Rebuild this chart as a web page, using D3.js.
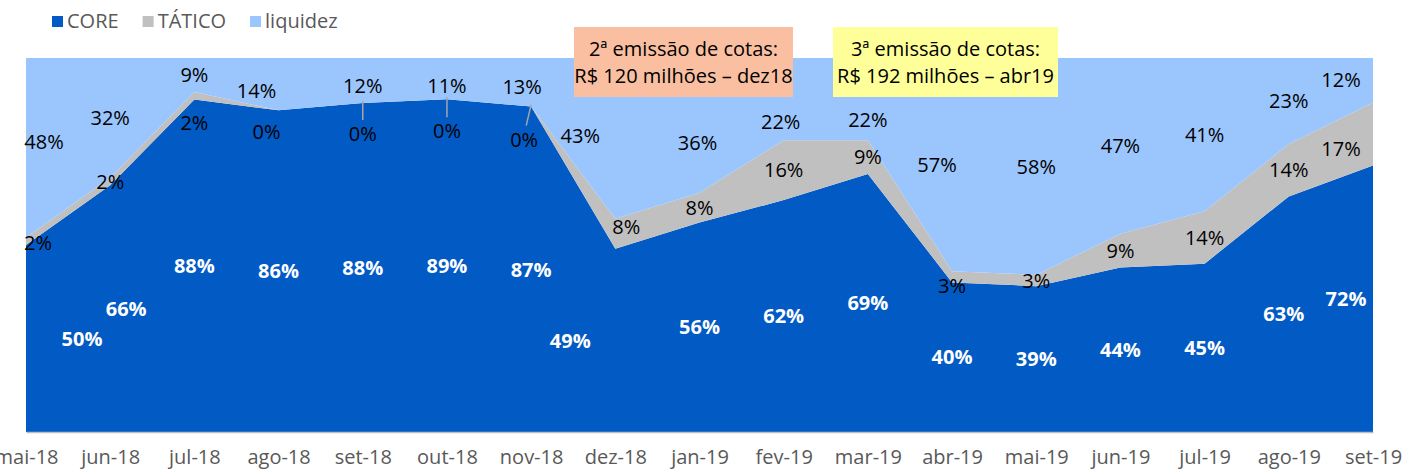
<!DOCTYPE html>
<html lang="pt-BR">
<head>
<meta charset="utf-8">
<title>Alocação da carteira</title>
<script src="https://cdnjs.cloudflare.com/ajax/libs/d3/7.8.5/d3.min.js"></script>
<style>
  body { margin: 0; background: #fff; }
  text { font-family: "Open Sans", "Noto Sans", sans-serif; }
</style>
</head>
<body>
<svg width="1404" height="469"></svg>
<script>
const months = ['mai-18', 'jun-18', 'jul-18', 'ago-18', 'set-18', 'out-18', 'nov-18', 'dez-18', 'jan-19',
                'fev-19', 'mar-19', 'abr-19', 'mai-19', 'jun-19', 'jul-19', 'ago-19', 'set-19'];
const core     = [50, 66, 88, 86, 88, 89, 87, 49, 56, 62, 69, 40, 39, 44, 45, 63, 72];
const tatico   = [2, 2, 2, 0, 0, 0, 0, 8, 8, 16, 9, 3, 3, 9, 14, 14, 17];
const liquidez = [48, 32, 9, 14, 12, 11, 13, 43, 36, 22, 22, 57, 58, 47, 41, 23, 12];
const seriesNames = ['CORE', 'TÁTICO', 'liquidez'];
const notes = [
  ['2ª emissão de cotas:', 'R$ 120 milhões – dez18'],
  ['3ª emissão de cotas:', 'R$ 192 milhões – abr19']
];

const colors = { CORE: '#025AC4', 'TÁTICO': '#C0C0C0', liquidez: '#9BC6FD' };
const labelColor = { CORE: '#fff', 'TÁTICO': '#000', liquidez: '#000' };
const fontSize = 20;

// labels that were dragged by hand in the original: index -> [dx, dy, leaderLine]
const nudge = {
  CORE: { 0: [56, 0], 1: [16, 0], 7: [-45, 0], 15: [-5, 0], 16: [-27, 0] },
  'TÁTICO': { 0: [12, 2], 2: [0, 27], 3: [-12, 21], 4: [0, 31, true], 5: [0, 32, true], 6: [-7, 33, true],
              7: [11, -7], 11: [0, 9], 16: [-32, 15] },
  liquidez: { 0: [18, -6], 3: [-22, 7], 4: [0, 5], 5: [0, 7], 6: [-9, 4], 7: [-35, -3], 8: [-2, 17],
              9: [-3, 23], 10: [0, 21], 11: [-15, 0], 16: [-32, 0] }
};

const svg = d3.select('svg');
const margin = { left: 26, right: 31, top: 58, bottom: 37 };
const width = +svg.attr('width');
const height = +svg.attr('height');
const innerWidth = width - margin.left - margin.right;
const innerHeight = height - margin.top - margin.bottom;

const rows = months.map((m, i) => ({ month: m, CORE: core[i], 'TÁTICO': tatico[i], liquidez: liquidez[i] }));
const stacked = d3.stack().keys(seriesNames).offset(d3.stackOffsetExpand)(rows);

const xScale = d3.scalePoint().domain(months).range([0, innerWidth]);
const yScale = d3.scaleLinear().domain([0, 1]).range([innerHeight, 0]);

const g = svg.append('g').attr('transform', `translate(${margin.left}, ${margin.top})`);

const area = d3.area()
  .x(d => xScale(d.data.month))
  .y0(d => yScale(d[0]))
  .y1(d => yScale(d[1]));

g.selectAll('path.layer').data(stacked)
  .enter().append('path')
  .attr('class', 'layer')
  .attr('fill', s => colors[s.key])
  .attr('d', area);

// bottom axis
const xAxis = d3.axisBottom(xScale).tickSize(0).tickPadding(18);
const xAxisG = g.append('g').attr('transform', `translate(0, ${innerHeight})`).call(xAxis);
xAxisG.select('.domain').attr('stroke', '#BFBFBF').attr('stroke-width', 1.5);
xAxisG.selectAll('text').attr('font-size', fontSize).attr('fill', '#595959')
  .attr('font-family', '"Open Sans", sans-serif');

// data labels
stacked.forEach(s => {
  const lg = g.append('g');
  s.forEach((d, i) => {
    const n = nudge[s.key][i] || [0, 0];
    const cx = xScale(d.data.month);
    const cy = yScale((d[0] + d[1]) / 2);
    const lx = cx + n[0];
    const ly = cy + n[1];
    if (n[2]) {
      lg.append('line')
        .attr('x1', cx).attr('y1', yScale(d[1]) - 2)
        .attr('x2', lx + (cx - lx) * 0.3).attr('y2', ly - 14)
        .attr('stroke', '#A6A6A6').attr('stroke-width', 1.5);
    }
    lg.append('text')
      .attr('x', lx).attr('y', ly)
      .attr('dy', '0.36em')
      .attr('text-anchor', 'middle')
      .attr('font-size', fontSize)
      .attr('font-weight', s.key === 'CORE' ? 700 : 400)
      .attr('fill', labelColor[s.key])
      .text(d.data[s.key] + '%');
  });
});

// annotation boxes
const noteBoxes = [
  { fill: '#F9BFA0', x: 574, y: 27, w: 219, h: 70 },
  { fill: '#FFFF99', x: 833, y: 27, w: 225, h: 70 }
];
notes.forEach((lines, i) => {
  const b = noteBoxes[i];
  svg.append('rect').attr('x', b.x).attr('y', b.y).attr('width', b.w).attr('height', b.h).attr('fill', b.fill);
  lines.forEach((t, j) => {
    svg.append('text')
      .attr('x', b.x + b.w / 2).attr('y', b.y + 29 + j * 27)
      .attr('text-anchor', 'middle')
      .attr('font-size', fontSize)
      .attr('fill', '#000')
      .text(t);
  });
});

// legend
const legend = svg.append('g').attr('transform', 'translate(52, 16)');
let lx = 0;
seriesNames.forEach(name => {
  legend.append('rect').attr('x', lx).attr('y', 0).attr('width', 11).attr('height', 11).attr('fill', colors[name]);
  const t = legend.append('text')
    .attr('x', lx + 15).attr('y', 12)
    .attr('font-size', fontSize)
    .attr('fill', '#595959')
    .text(name);
  lx += 15 + t.node().getComputedTextLength() + 24;
});
</script>
</body>
</html>
